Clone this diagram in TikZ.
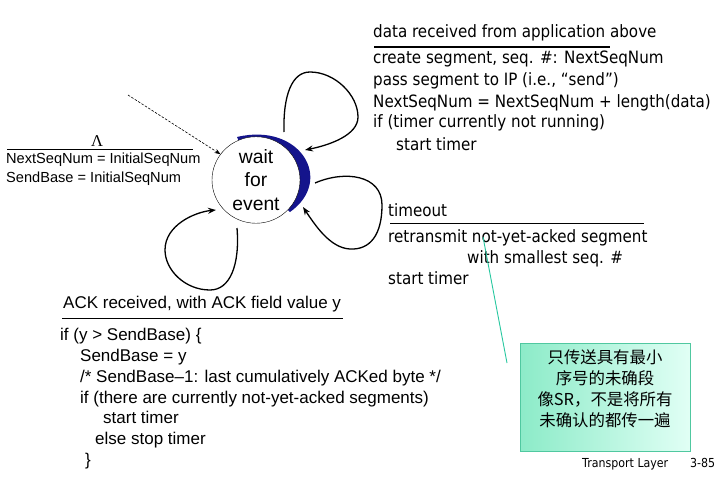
\documentclass[tikz,border=0pt]{standalone}
\usepackage{fontspec}
\setmainfont{Liberation Sans}
\newfontfamily\tahoma[FakeStretch=0.89]{DejaVu Sans}
\newfontfamily\serifL{Liberation Serif}
\newfontfamily\cjk{Noto Sans CJK SC}
\usetikzlibrary{shapes.geometric,arrows.meta,calc}
\definecolor{crescent}{RGB}{20,20,140}
\definecolor{noteborder}{RGB}{80,200,160}
\definecolor{noteleft}{RGB}{140,235,200}
\definecolor{noteright}{RGB}{225,255,245}
\definecolor{pointer}{RGB}{40,200,160}
\tikzset{
  tah/.style={font=\tahoma\fontsize{17}{20}\selectfont, anchor=base west, inner sep=0pt},
  ari/.style={font=\fontsize{17}{20}\selectfont, anchor=base west, inner sep=0pt},
  arismall/.style={font=\fontsize{14.6}{17}\selectfont, anchor=base west, inner sep=0pt},
  rulethin/.style={line width=0.9pt},
  loopline/.style={line width=1.3pt, -{Stealth[length=8pt,width=6pt]}},
}
\begin{document}
\begin{tikzpicture}[x=1pt,y=-1pt]
\useasboundingbox (0,0) rectangle (719,476);
\fill[white] (0,0) rectangle (719,476);

% crescent shadow
\fill[crescent] (237,137) .. controls (300,122) and (335,180) .. (290,212) -- (256,180) -- cycle;
% state
\node[ellipse, draw, thin, fill=white, minimum width=88pt, minimum height=86pt, inner sep=0pt,
      align=center, font=\fontsize{19.3}{23.5}\selectfont] (w) at (256,180) {wait\\for\\event};

% initial dashed arrow
\coordinate (init) at (128,95);
\draw[dashed, dash pattern=on 2.5pt off 1.5pt, line width=0.6pt, -{Stealth[length=6pt,width=4.5pt]}] (init) -- (w.144);

% loops
\draw[loopline] ($(w.center)+(28,-48)$) .. controls (283,95) and (292,72) .. (310,72)
   .. controls (335,72) and (358,95) .. (358,117)
   .. controls (358,135) and (330,145) .. ($(w.center)+(49,-30)$);
\draw[loopline] ($(w.center)+(59,3)$) .. controls (345,170) and (382,175) .. (382,205)
   .. controls (382,235) and (370,250) .. (350,249)
   .. controls (330,248) and (315,225) .. ($(w.center)+(47,27)$);
\draw[loopline] ($(w.center)+(-19,48)$) .. controls (240,265) and (230,290) .. (210,290)
   .. controls (185,290) and (165,270) .. (165,250)
   .. controls (165,225) and (195,212) .. ($(w.center)+(-40,30)$);

% initial label
\node[font=\serifL\fontsize{16.5}{18}\selectfont, anchor=base, inner sep=0pt] (lam) at (97,146) {Λ};
\draw[rulethin] (7,149) coordinate (lrA) -- (193,149) coordinate (lrB);
\node[arismall] (l1) at (6,163) {NextSeqNum = InitialSeqNum};
\node[arismall] (l2) at (6,182) {SendBase = InitialSeqNum};

% data received
\node[tah] (d0) at (373,38) {data received from application above};
\draw[line width=1.4pt] (374,47) coordinate (drA) -- (610,47) coordinate (drB);
\node[tah] (d1) at (373,64) {create segment, seq. \#: NextSeqNum};
\node[tah] (d2) at (373,86) {pass segment to IP (i.e., “send”)};
\node[tah] (d3) at (373,107) {NextSeqNum = NextSeqNum + length(data)};
\node[tah] (d4) at (373,128) {if (timer currently not running)};
\node[tah] (d5) at (396,150) {start timer};

% timeout
\node[tah] (t0) at (388,216) {timeout};
\draw[rulethin] (390,223) coordinate (trA) -- (644,223) coordinate (trB);
\node[tah] (t1) at (388,242) {retransmit not-yet-acked segment};
\node[tah] (t2) at (467,263) {with smallest seq. \#};
\node[tah] (t3) at (388,284) {start timer};

% ACK
\node[ari] (a0) at (63,308) {ACK received, with ACK field value y};
\draw[rulethin] (62,318) coordinate (arA) -- (343,318) coordinate (arB);
\node[ari] (a1) at (60,340) {if (y > SendBase) \{};
\node[ari] (a2) at (80,361) {SendBase = y};
\node[ari] (a3) at (80,382) {/* SendBase–1: last cumulatively ACKed byte */};
\node[ari] (a4) at (80,403) {if (there are currently not-yet-acked segments)};
\node[ari] (a5) at (103,423) {start timer};
\node[ari] (a6) at (95,444) {else stop timer};
\node[ari] (a7) at (85,465) {\}};

% note
\coordinate (ptip) at (483,237);
\coordinate (pbase) at (507,363);
\draw[pointer, line width=0.9pt] (pbase) -- (ptip);
\node[draw=noteborder, line width=1pt, left color=noteleft, right color=noteright,
      minimum width=170pt, minimum height=108pt, inner sep=0pt] (note) at (605,397) {};
\node[font=\cjk\fontsize{16.4}{21}\selectfont, align=center, inner sep=0pt] (notetext) at (605,389)
  {只传送具有最小\\序号的未确段\\像SR，不是将所有\\未确认的都传一遍};

% footer
\node[font=\tahoma\fontsize{12.4}{14}\selectfont, anchor=base west, inner sep=0pt] (foot) at (582,467) {Transport Layer};
\node[font=\tahoma\fontsize{12.4}{14}\selectfont, anchor=base west, inner sep=0pt] (page) at (690,467) {3-85};
\end{tikzpicture}
\end{document}
